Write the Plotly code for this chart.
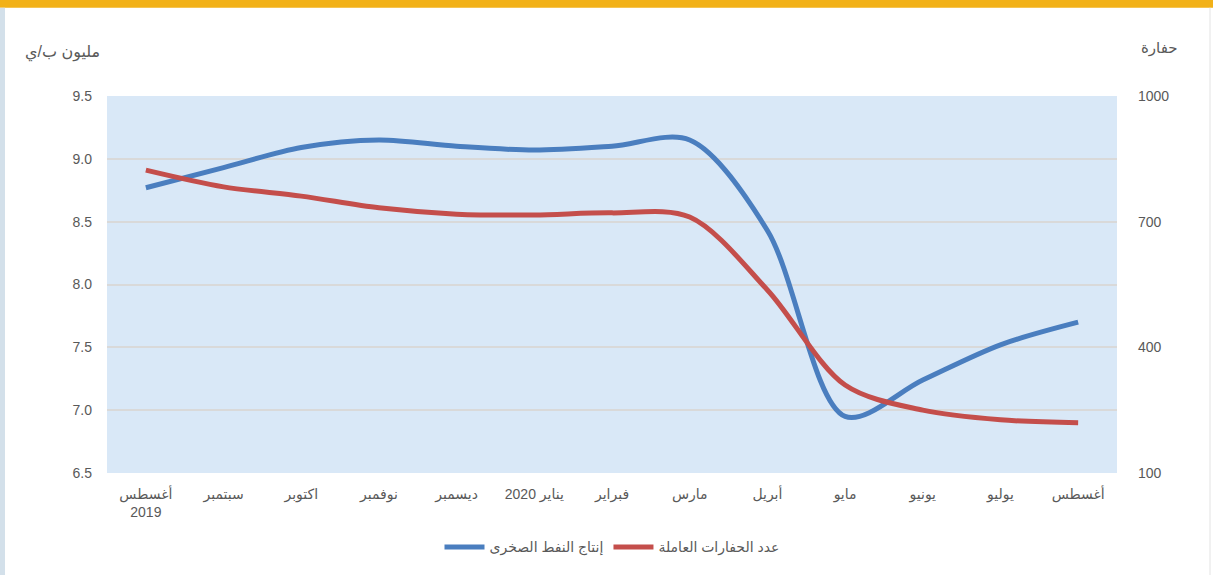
import plotly.graph_objects as go

months = ["أغسطس<br>2019", "سبتمبر", "اكتوبر", "نوفمبر", "ديسمبر", "يناير 2020",
          "فبراير", "مارس", "أبريل", "مايو", "يونيو", "يوليو", "أغسطس"]
shale_output = [8.77, 8.93, 9.09, 9.15, 9.10, 9.07, 9.10, 9.15, 8.43, 6.95, 7.24, 7.52, 7.70]
rig_count = [823, 783, 761, 733, 718, 716, 721, 711, 537, 310, 250, 227, 220]
left_ticks = [6.5, 7.0, 7.5, 8.0, 8.5, 9.0, 9.5]
right_ticks = [100, 400, 700, 1000]

W, H = 1213, 575
L, R, T, B = 107, 1117, 96, 476
pw, ph = R - L, B - T

def px(x):
    return (x - L) / pw

def py(y):
    return (B - y) / ph

FONT = "Liberation Sans, DejaVu Sans, Arial, sans-serif"
GRAY = "#595959"

fig = go.Figure()
fig.add_trace(go.Scatter(
    x=months, y=shale_output, name="إنتاج النفط الصخرى", mode="lines",
    line=dict(color="#4a7ebf", width=5, shape="spline", smoothing=0.9),
    yaxis="y"))
fig.add_trace(go.Scatter(
    x=months, y=rig_count, name="عدد الحفارات العاملة", mode="lines",
    line=dict(color="#c44e4b", width=5, shape="spline", smoothing=0.9),
    yaxis="y2"))

shapes = [
    dict(type="rect", xref="paper", yref="paper", x0=px(-5), x1=px(W + 5),
         y0=py(7), y1=py(-5), fillcolor="#f2b118", line_width=0, layer="above"),
    dict(type="rect", xref="paper", yref="paper", x0=px(-5), x1=px(5),
         y0=py(H + 5), y1=py(7), fillcolor="#d3e0ea", line_width=0, layer="above"),
    dict(type="line", xref="paper", yref="paper", x0=px(1210), x1=px(1210),
         y0=py(H + 5), y1=py(7), line=dict(color="#e3e3e3", width=1), layer="above"),
]

annotations = [
    dict(text="مليون ب/ي", xref="paper", yref="paper", x=px(62), y=py(52),
         showarrow=False, font=dict(size=16, color=GRAY, family=FONT),
         xanchor="center", yanchor="middle"),
    dict(text="حفارة", xref="paper", yref="paper", x=px(1159), y=py(48),
         showarrow=False, font=dict(size=15, color=GRAY, family=FONT),
         xanchor="center", yanchor="middle"),
]

fig.update_layout(
    width=W, height=H,
    margin=dict(l=L, r=W - R, t=T, b=H - B),
    paper_bgcolor="white",
    plot_bgcolor="#d9e8f7",
    font=dict(family=FONT, color=GRAY, size=14),
    showlegend=True,
    legend=dict(orientation="h", x=0.5, xanchor="center", y=py(551), yanchor="middle",
                font=dict(size=14, color=GRAY, family=FONT), itemwidth=40,
                tracegroupgap=0),
    xaxis=dict(type="category", range=[-0.5, len(months) - 0.5], showgrid=False,
               ticks="", showline=False, tickfont=dict(size=14, color=GRAY),
               tickangle=0, ticklabelstandoff=11),
    yaxis=dict(range=[6.5, 9.5], tickvals=left_ticks, tickformat=".1f",
               showgrid=True, gridcolor="#d9d9d9", gridwidth=1.5, zeroline=False,
               showline=False, ticks="", ticklabelstandoff=14,
               tickfont=dict(size=14, color=GRAY)),
    yaxis2=dict(range=[100, 1000], tickvals=right_ticks, overlaying="y", side="right",
                showgrid=False, zeroline=False, showline=False, ticks="",
                ticklabelstandoff=20, tickfont=dict(size=14, color=GRAY)),
    shapes=shapes,
    annotations=annotations,
)

fig.write_html("out.html", config={"displayModeBar": False},
               post_script="document.body.style.margin='0px';document.body.style.overflow='hidden';")
